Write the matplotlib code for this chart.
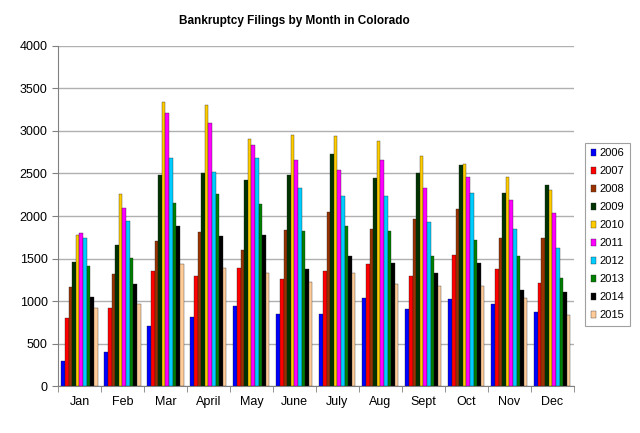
import matplotlib.pyplot as plt
import numpy as np

plt.rcParams['font.family'] = ['Liberation Sans', 'DejaVu Sans']

months = ["Jan", "Feb", "Mar", "April", "May", "June", "July", "Aug", "Sept", "Oct", "Nov", "Dec"]
years = ["2006", "2007", "2008", "2009", "2010", "2011", "2012", "2013", "2014", "2015"]

f2006 = [297, 406, 704, 814, 943, 853, 849, 1040, 904, 1021, 966, 872]
f2007 = [802, 915, 1350, 1291, 1393, 1260, 1350, 1432, 1299, 1538, 1377, 1209]
f2008 = [1166, 1315, 1706, 1808, 1600, 1835, 2043, 1850, 1964, 2085, 1741, 1745]
f2009 = [1460, 1655, 2481, 2500, 2422, 2477, 2731, 2445, 2500, 2598, 2269, 2363]
f2010 = [1772, 2261, 3341, 3302, 2907, 2950, 2938, 2880, 2704, 2606, 2457, 2301]
f2011 = [1800, 2093, 3212, 3095, 2837, 2657, 2539, 2657, 2328, 2457, 2187, 2031]
f2012 = [1741, 1941, 2684, 2516, 2677, 2324, 2234, 2230, 1929, 2269, 1847, 1624]
f2013 = [1412, 1506, 2152, 2261, 2144, 1820, 1882, 1823, 1530, 1718, 1526, 1275]
f2014 = [1052, 1197, 1878, 1761, 1772, 1381, 1533, 1447, 1334, 1451, 1131, 1107]
f2015 = [915, 966, 1436, 1389, 1326, 1224, 1334, 1201, 1178, 1178, 1033, 837]

series = [f2006, f2007, f2008, f2009, f2010, f2011, f2012, f2013, f2014, f2015]
colors = ["#0000FF", "#FF0000", "#993300", "#003300", "#FFCC00",
          "#FF00FF", "#00CCFF", "#008000", "#000000", "#FFCC99"]

fig = plt.figure(figsize=(6.4, 4.33), dpi=100)
ax = fig.add_axes([0.0906, 0.1085, 0.806, 0.7853])

x = np.arange(len(months))
w = 0.084
for i in range(len(series)):
    ax.bar(x - 0.42 + w * (i + 0.5), series[i], width=w, color=colors[i],
           label=years[i], edgecolor="#202020", linewidth=0.25, zorder=3)

ax.set_xlim(-0.5, 11.5)
ax.set_ylim(0, 4000)
ax.set_yticks(range(0, 4001, 500))
ax.grid(axis="y", color="#b0b0b0", linewidth=1, zorder=0)
ax.set_xticks(x)
ax.set_xticklabels(months, fontsize=9)
ax.set_xticks(np.arange(-0.5, 12, 1), minor=True)
ax.tick_params(axis="x", which="major", length=0, pad=7)
ax.tick_params(axis="x", which="minor", length=4, color="#808080")
ax.tick_params(axis="y", labelsize=9, length=4, color="#808080")
for s in ["top", "right"]:
    ax.spines[s].set_visible(False)
ax.spines["left"].set_color("#808080")
ax.spines["bottom"].set_color("#808080")

fig.text(0.46, 0.952, "Bankruptcy Filings by Month in Colorado", ha="center",
         va="center", fontsize=8.5, fontweight="bold")

leg = fig.legend(loc="upper left", bbox_to_anchor=(0.914, 0.670), fontsize=8,
                 handlelength=0.5, handleheight=0.5, handletextpad=0.3,
                 labelspacing=0.72, borderpad=0.5, borderaxespad=0, fancybox=False,
                 edgecolor="#a0a0a0", framealpha=1)
leg.get_frame().set_linewidth(0.8)

fig.savefig("out.png", dpi=100)
